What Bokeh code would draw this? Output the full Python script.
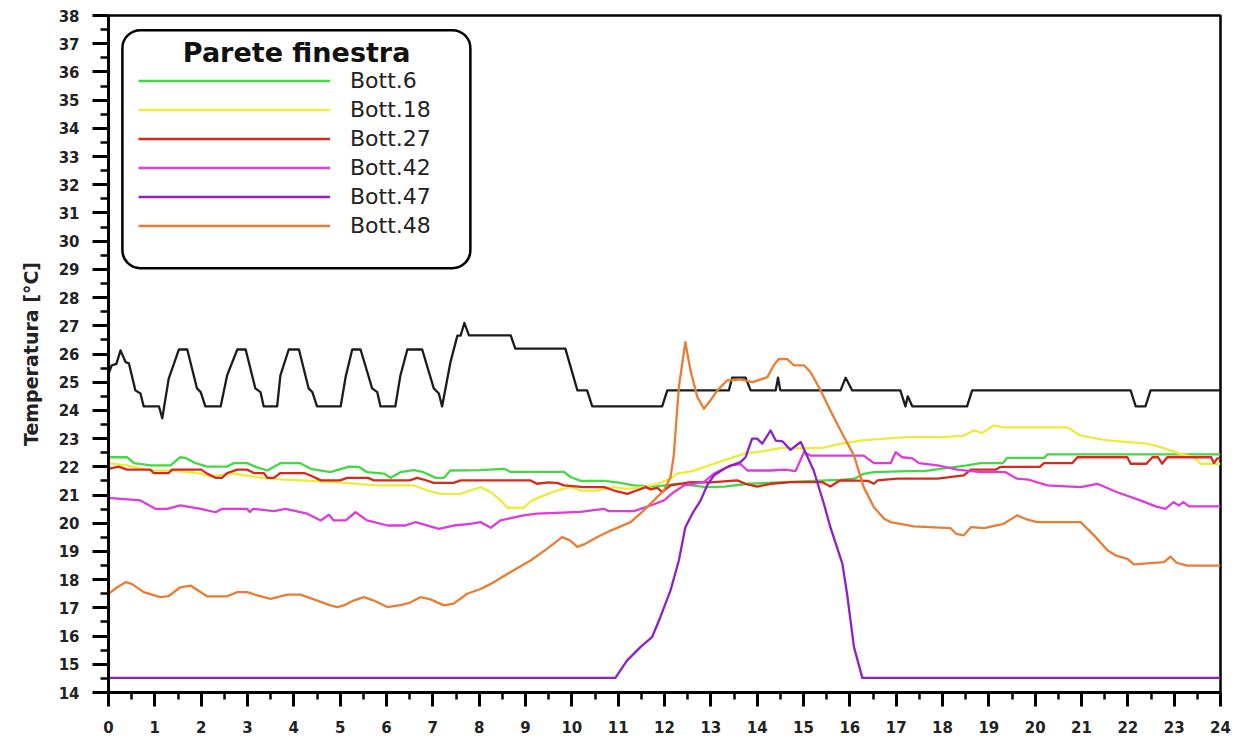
from bokeh.plotting import figure
from bokeh.models import Range1d, FixedTicker, Legend, LegendItem, BoxAnnotation, Label
from bokeh.embed import file_html
from bokeh.resources import INLINE

# ---------------- data (hour of day, temperature °C) ----------------
x_ticks = list(range(0, 25))
y_ticks = list(range(14, 39))

air_h = [0, 0.07, 0.17, 0.26, 0.37, 0.44, 0.58, 0.69, 0.76, 1.09, 1.16, 1.30, 1.52, 1.70, 1.91, 1.99, 2.09,
         2.42, 2.56, 2.78, 2.96, 3.17, 3.28, 3.35, 3.64, 3.71, 3.89, 4.11, 4.32, 4.40, 4.50, 5.01, 5.12,
         5.26, 5.44, 5.69, 5.80, 5.87, 6.19, 6.30, 6.45, 6.77, 7.02, 7.13, 7.20, 7.38, 7.53, 7.60, 7.68,
         7.78, 8.68, 8.78, 9.86, 10.12, 10.33, 10.44, 11.95, 12.06, 13.39, 13.46, 13.75, 13.86, 14.40,
         14.45, 14.50, 15.80, 15.91, 16.05, 17.09, 17.20, 17.25, 17.35, 18.53, 18.64, 22.06, 22.17,
         22.38, 22.49, 24.0]
air_t = [25.3, 25.6, 25.65, 26.13, 25.71, 25.67, 24.71, 24.6, 24.14, 24.14, 23.72, 25.13, 26.16, 26.16,
         24.78, 24.65, 24.14, 24.14, 25.24, 26.16, 26.16, 24.78, 24.65, 24.14, 24.14, 25.24, 26.16, 26.16,
         24.78, 24.65, 24.14, 24.14, 25.2, 26.16, 26.16, 24.78, 24.65, 24.14, 24.14, 25.24, 26.16, 26.16,
         24.78, 24.6, 24.14, 25.71, 26.65, 26.65, 27.1, 26.66, 26.66, 26.19, 26.19, 24.71, 24.71, 24.14,
         24.14, 24.71, 24.71, 25.16, 25.16, 24.71, 24.71, 25.16, 24.71, 24.71, 25.16, 24.71, 24.71, 24.14,
         24.5, 24.14, 24.14, 24.71, 24.71, 24.14, 24.14, 24.71, 24.71]

b6_h = [0, 0.4, 0.55, 0.91, 1.34, 1.55, 1.65, 1.88, 2.13, 2.56, 2.70, 2.99, 3.21, 3.43, 3.71, 4.14, 4.36,
        4.79, 5.19, 5.4, 5.58, 5.94, 6.09, 6.30, 6.59, 6.8, 7.06, 7.24, 7.38, 8.03, 8.53, 8.68, 9.83, 9.97,
        10.19, 10.69, 10.98, 11.34, 11.8, 12.3, 12.9, 13.3, 13.8, 14.5, 15.2, 15.8, 16.1, 16.3, 16.52, 17.24,
        17.6, 17.96, 18.53, 18.82, 19.3, 19.4, 20.2, 20.26, 24]
b6_t = [22.34, 22.34, 22.13, 22.05, 22.05, 22.34, 22.32, 22.13, 22.01, 22.01, 22.13, 22.13, 21.98, 21.87,
        22.13, 22.13, 21.93, 21.81, 22.01, 22.0, 21.81, 21.76, 21.61, 21.81, 21.88, 21.81, 21.61, 21.61,
        21.87, 21.88, 21.93, 21.82, 21.82, 21.64, 21.5, 21.5, 21.45, 21.34, 21.3, 21.4, 21.28, 21.3, 21.4,
        21.45, 21.5, 21.54, 21.58, 21.75, 21.81, 21.85, 21.85, 21.93, 22.05, 22.13, 22.13, 22.32, 22.32,
        22.44, 22.44]

b18_h = [0, 0.4, 0.91, 1.4, 1.99, 2.2, 2.7, 3.43, 4.14, 4.86, 5.8, 6.59, 6.88, 7.17, 7.6, 7.81, 8.03, 8.25,
         8.46, 8.61, 8.96, 9.14, 9.4, 9.68, 9.97, 10.2, 10.55, 10.9, 11.2, 11.55, 11.84, 12.13, 12.27, 12.6,
         12.85, 13.28, 13.71, 14.1, 14.58, 15.0, 15.44, 15.73, 16.3, 17.24, 18.0, 18.46, 18.68, 18.85, 19.11,
         19.3, 19.76, 20.69, 20.98, 21.56, 22.42, 22.71, 23.14, 23.43, 23.57, 24]
b18_t = [22.13, 22.05, 21.87, 21.87, 21.76, 21.66, 21.76, 21.58, 21.52, 21.46, 21.34, 21.34, 21.16, 21.04,
         21.04, 21.16, 21.28, 21.1, 20.81, 20.55, 20.55, 20.81, 20.99, 21.16, 21.28, 21.16, 21.16, 21.28,
         21.22, 21.28, 21.4, 21.58, 21.76, 21.85, 21.99, 22.23, 22.46, 22.55, 22.68, 22.65, 22.68, 22.8, 22.95,
         23.05, 23.05, 23.11, 23.29, 23.2, 23.47, 23.4, 23.4, 23.4, 23.11, 22.94, 22.82, 22.7, 22.46, 22.34,
         22.11, 22.11]

b27_h = [0, 0.22, 0.4, 0.9, 0.98, 1.3, 1.37, 2.0, 2.13, 2.31, 2.45, 2.56, 2.78, 2.99, 3.14, 3.35, 3.43, 3.57,
         3.71, 4.22, 4.35, 4.58, 5.0, 5.15, 5.6, 5.73, 6.5, 6.66, 6.8, 7.02, 7.45, 7.6, 9.1, 9.25, 9.5, 9.7,
         9.83, 10.26, 10.7, 10.91, 11.2, 11.4, 11.6, 11.7, 11.85, 11.95, 12.13, 12.56, 13.0, 13.57, 13.75,
         14.0, 14.3, 14.72, 15.4, 15.58, 15.73, 15.8, 16.4, 16.52, 16.6, 17.02, 17.89, 18.46, 18.61, 19.15,
         19.25, 20.1, 20.19, 20.8, 20.91, 21.99, 22.06, 22.4, 22.53, 22.65, 22.74, 22.85, 23.8, 23.86, 23.93,
         24]
b27_t = [21.93, 22.01, 21.9, 21.9, 21.78, 21.78, 21.9, 21.9, 21.76, 21.61, 21.61, 21.78, 21.9, 21.9, 21.78,
         21.78, 21.61, 21.61, 21.78, 21.78, 21.7, 21.52, 21.52, 21.61, 21.61, 21.52, 21.52, 21.61, 21.55,
         21.43, 21.43, 21.52, 21.52, 21.4, 21.45, 21.42, 21.34, 21.28, 21.28, 21.16, 21.04, 21.16, 21.28,
         21.2, 21.25, 21.1, 21.34, 21.46, 21.45, 21.52, 21.4, 21.3, 21.4, 21.46, 21.46, 21.3, 21.46, 21.52,
         21.5, 21.4, 21.52, 21.58, 21.58, 21.7, 21.9, 21.9, 22.0, 22.0, 22.13, 22.13, 22.34, 22.34, 22.11,
         22.11, 22.34, 22.34, 22.11, 22.34, 22.34, 22.13, 22.3, 22.3]

b42_h = [0, 0.69, 1.01, 1.27, 1.55, 1.99, 2.31, 2.45, 2.99, 3.05, 3.12, 3.57, 3.82, 4.29, 4.58, 4.76, 4.86,
         5.12, 5.33, 5.58, 6.02, 6.41, 6.63, 7.13, 7.45, 7.81, 8.03, 8.25, 8.46, 8.96, 9.25, 10.19, 10.69,
         10.8, 11.34, 11.7, 11.99, 12.2, 12.42, 12.85, 13.07, 13.43, 13.64, 13.79, 14.29, 14.6, 14.83, 15.01,
         15.15, 16.3, 16.52, 16.88, 16.99, 17.13, 17.35, 17.49, 17.89, 18.32, 18.82, 19.36, 19.61, 19.85,
         20.26, 20.98, 21.34, 21.77, 22.27, 22.6, 22.81, 22.99, 23.1, 23.2, 23.32, 24]
b42_t = [20.9, 20.81, 20.51, 20.51, 20.63, 20.51, 20.39, 20.51, 20.51, 20.4, 20.51, 20.43, 20.51, 20.34,
         20.1, 20.3, 20.1, 20.1, 20.39, 20.1, 19.92, 19.92, 20.04, 19.8, 19.92, 19.98, 20.04, 19.84, 20.1,
         20.28, 20.34, 20.4, 20.51, 20.43, 20.43, 20.63, 20.81, 21.1, 21.34, 21.46, 21.76, 22.05, 22.1, 21.87,
         21.87, 21.9, 21.85, 22.52, 22.4, 22.4, 22.13, 22.13, 22.52, 22.34, 22.3, 22.13, 22.05, 21.9, 21.81,
         21.81, 21.58, 21.55, 21.34, 21.28, 21.4, 21.1, 20.81, 20.6, 20.51, 20.75, 20.63, 20.75, 20.6, 20.6]

b47_h = [0, 10.94, 11.19, 11.48, 11.73, 11.91, 12.13, 12.31, 12.45, 12.6, 12.78, 12.92, 13.07, 13.35, 13.64,
         13.75, 13.89, 14.0, 14.11, 14.29, 14.4, 14.55, 14.72, 14.94, 15.04, 15.22, 15.44, 15.58, 15.84,
         15.94, 16.09, 16.27, 24]
b47_t = [14.52, 14.52, 15.13, 15.61, 15.96, 16.67, 17.62, 18.68, 19.86, 20.34, 20.81, 21.34, 21.7, 21.99,
         22.17, 22.34, 23.0, 23.0, 22.82, 23.29, 22.93, 22.9, 22.6, 22.88, 22.52, 21.87, 20.69, 19.86, 18.56,
         17.5, 15.61, 14.52, 14.52]

b48_h = [0, 0.19, 0.37, 0.5, 0.76, 1.12, 1.3, 1.55, 1.77, 1.95, 2.13, 2.56, 2.78, 2.99, 3.21, 3.5, 3.86, 4.14,
         4.43, 4.79, 4.94, 5.1, 5.29, 5.51, 5.73, 6.02, 6.3, 6.5, 6.73, 6.95, 7.24, 7.45, 7.74, 8.03, 8.25,
         8.68, 9.11, 9.47, 9.79, 9.95, 10.12, 10.26, 10.55, 10.84, 11.27, 11.55, 11.77, 11.99, 12.13, 12.2,
         12.31, 12.45, 12.56, 12.71, 12.85, 12.99, 13.14, 13.35, 13.64, 13.9, 14.22, 14.36, 14.47, 14.65,
         14.79, 15.01, 15.15, 15.37, 15.58, 15.8, 16.09, 16.3, 16.52, 16.74, 16.88, 17.38, 18.17, 18.3,
         18.46, 18.61, 18.9, 19.32, 19.61, 19.8, 20.04, 20.98, 21.27, 21.56, 21.75, 21.99, 22.13, 22.78,
         22.92, 23.05, 23.28, 24]
b48_t = [17.5, 17.73, 17.91, 17.85, 17.56, 17.38, 17.42, 17.73, 17.79, 17.6, 17.41, 17.41, 17.56, 17.56,
         17.44, 17.32, 17.47, 17.47, 17.3, 17.09, 17.03, 17.1, 17.26, 17.38, 17.26, 17.03, 17.1, 17.18, 17.38,
         17.3, 17.09, 17.15, 17.5, 17.67, 17.85, 18.27, 18.68, 19.1, 19.51, 19.4, 19.16, 19.25, 19.51, 19.74,
         20.04, 20.45, 20.81, 21.16, 21.64, 22.4, 24.83, 26.42, 25.42, 24.47, 24.06, 24.35, 24.71, 25.06,
         25.1, 25.0, 25.18, 25.6, 25.83, 25.82, 25.6, 25.6, 25.36, 24.71, 24.0, 23.29, 22.4, 21.28, 20.57,
         20.16, 20.04, 19.89, 19.83, 19.62, 19.57, 19.86, 19.83, 19.98, 20.28, 20.15, 20.04, 20.04, 19.57,
         19.04, 18.85, 18.74, 18.54, 18.62, 18.82, 18.6, 18.5, 18.5]

series_names = ["Bott.6", "Bott.18", "Bott.27", "Bott.42", "Bott.47", "Bott.48"]
series_h = [b6_h, b18_h, b27_h, b42_h, b47_h, b48_h]
series_t = [b6_t, b18_t, b27_t, b42_t, b47_t, b48_t]
series_colors = ["#45d845", "#ecec3c", "#d62a1e", "#dc3cdc", "#8a22c8", "#e87d34"]

legend_title = "Parete finestra"
y_label = "Temperatura [°C]"

FONT = "DejaVu Sans"

# ---------------- figure ----------------
p = figure(width=1236, height=742, x_range=Range1d(0, 24), y_range=Range1d(14, 38),
           output_backend="svg", toolbar_location=None,
           min_border_left=108, min_border_right=16, min_border_top=15, min_border_bottom=50)
p.background_fill_color = "white"
p.border_fill_color = "white"
p.outline_line_color = "black"
p.outline_line_width = 2.5
p.outline_line_alpha = 1.0
p.xgrid.visible = False
p.ygrid.visible = False

p.xaxis.ticker = FixedTicker(ticks=x_ticks, minor_ticks=[t + 0.5 for t in x_ticks[:-1]])
p.yaxis.ticker = FixedTicker(ticks=y_ticks, minor_ticks=[t + 0.5 for t in y_ticks[:-1]])

for ax in (p.xaxis[0], p.yaxis[0]):
    ax.axis_line_width = 3
    ax.axis_line_color = "black"
    ax.major_tick_line_width = 3
    ax.minor_tick_line_width = 2.5
    ax.major_tick_in = 0
    ax.minor_tick_in = 0
    ax.major_label_text_font = FONT
    ax.major_label_text_font_style = "bold"
    ax.major_label_text_font_size = "15px"
    ax.major_label_text_color = "#222222"

p.xaxis.major_tick_out = 14
p.xaxis.minor_tick_out = 7
p.xaxis.major_label_standoff = 14
p.yaxis.major_tick_out = 16
p.yaxis.minor_tick_out = 8
p.yaxis.major_label_standoff = 13

p.yaxis.axis_label = y_label
p.yaxis.axis_label_text_font = FONT
p.yaxis.axis_label_text_font_style = "bold"
p.yaxis.axis_label_text_font_size = "19px"
p.yaxis.axis_label_text_color = "#222222"
p.yaxis.axis_label_standoff = 14

# black unlabeled line
p.line(air_h, air_t, line_color="#1c1c1c", line_width=2.3, line_join="round")

renderers = []
for h, t, c in zip(series_h, series_t, series_colors):
    r = p.line(h, t, line_color=c, line_width=2.3, line_join="round")
    renderers.append(r)

# legend frame (rounded box)
box = BoxAnnotation(left=0.30, right=7.81, top=37.48, bottom=29.04,
                    fill_color="white", fill_alpha=1.0, line_color="black", line_alpha=1.0,
                    line_width=2.5, border_radius=18)
p.add_layout(box)

p.add_layout(Label(x=4.06, y=36.68, text=legend_title, text_align="center", text_baseline="middle",
                   text_font=FONT, text_font_style="bold", text_font_size="27px", text_color="#111111"))

items = [LegendItem(label=n, renderers=[r]) for n, r in zip(series_names, renderers)]
legend = Legend(items=items, location=(30, 452), padding=0, margin=0, spacing=0,
                glyph_width=192, glyph_height=29, label_height=29, label_standoff=20,
                label_text_font=FONT, label_text_font_size="22px", label_text_color="#222222",
                background_fill_alpha=0, border_line_alpha=0)
p.add_layout(legend)

open("out.html", "w").write(file_html(p, INLINE))
